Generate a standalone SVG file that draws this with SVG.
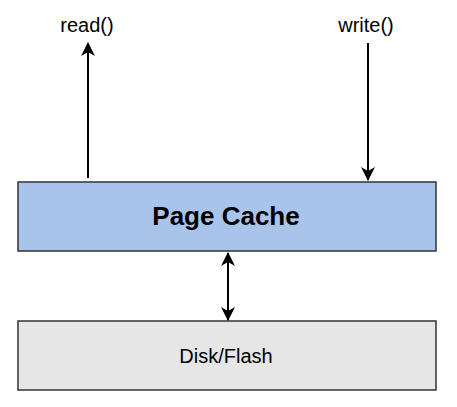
<svg xmlns="http://www.w3.org/2000/svg" width="457" height="407" viewBox="0 0 457 407">
<style>
text{font-family:"Liberation Sans",Arial,sans-serif;fill:#000}
.lbl{font-size:20px;text-anchor:middle}
.box{stroke:#333;stroke-width:1.5}
.c{stroke:#000;stroke-width:2;fill:none}
</style>
<defs>
<marker id="ah" viewBox="0 0 14 14" refX="13" refY="7" markerWidth="14" markerHeight="14" markerUnits="userSpaceOnUse" orient="auto-start-reverse">
<path d="M0,0 L14,7 L0,14 L4,7 Z" fill="#000"/>
</marker>
</defs>
<rect width="457" height="407" fill="#fff"/>
<g id="read">
<text class="lbl" x="87" y="32">read()</text>
</g>
<g id="write">
<text class="lbl" x="366" y="32">write()</text>
</g>
<g id="pagecache">
<rect class="box" x="18" y="182" width="418" height="69" fill="#a9c4eb"/>
<text x="226" y="225" text-anchor="middle" font-size="26" font-weight="bold">Page Cache</text>
</g>
<g id="disk">
<rect class="box" x="18" y="321" width="418" height="69" fill="#e6e6e6"/>
<text class="lbl" x="226" y="363">Disk/Flash</text>
</g>
<g id="connectors">
<line class="c" x1="88" y1="178" x2="88" y2="43" marker-end="url(#ah)"/>
<line class="c" x1="368" y1="43" x2="368" y2="180" marker-end="url(#ah)"/>
<line class="c" x1="228" y1="253" x2="228" y2="320" marker-start="url(#ah)" marker-end="url(#ah)"/>
</g>
</svg>
